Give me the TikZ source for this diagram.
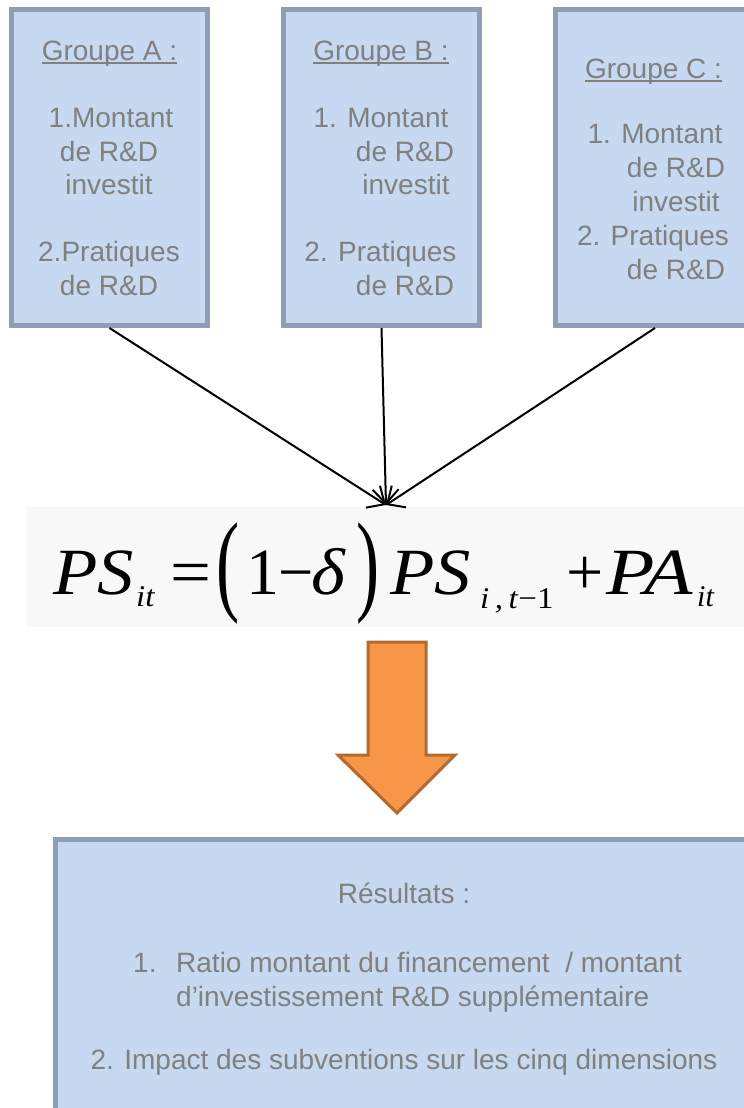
\documentclass[tikz,border=0pt]{standalone}
\usepackage{fontspec}
\setmainfont{Liberation Sans}
\newfontfamily\eqfont{Liberation Serif}
\usetikzlibrary{arrows.meta}
\definecolor{boxfill}{HTML}{C6D9F0}
\definecolor{boxline}{HTML}{8E9FB5}
\definecolor{txt}{HTML}{808080}
\definecolor{orfill}{HTML}{F79646}
\definecolor{orline}{HTML}{B46A2E}
\definecolor{eqbg}{HTML}{F8F8F8}
\newcommand\myul[1]{\setbox0\hbox{#1}\rlap{\rule[-3.5pt]{\wd0}{1.4pt}}\box0}
\begin{document}
\begin{tikzpicture}[x=1pt,y=-1pt,
  gbox/.style={draw=boxline, fill=boxfill, line width=5pt, inner sep=0pt},
  lbl/.style={text=txt, font=\fontsize{28}{34}\selectfont, inner sep=0pt, anchor=base},
  conn/.style={line width=2pt, -{Straight Barb[length=14pt,width=26pt]}},
  eq/.style={font=\eqfont\fontsize{66}{70}\selectfont, inner sep=0pt, anchor=base west},
  eqs/.style={font=\eqfont\fontsize{30}{30}\selectfont, inner sep=0pt, anchor=base west},
]
\useasboundingbox (0,0) rectangle (744,1108);
\clip (0,0) rectangle (744,1108);
\fill[white] (0,0) rectangle (744,1108);

% group boxes
\node[gbox, minimum width=196pt, minimum height=316pt] (A) at (109.5,167.5) {};
\node[gbox, minimum width=196pt, minimum height=316pt] (B) at (381.5,167.5) {};
\node[gbox, minimum width=199pt, minimum height=316pt] (C) at (655,167.5) {};

% texts A
\node[lbl] (a0) at (109.5,60) {\myul{Groupe A :}};
\node[lbl] (a1) at (111,127) {1.Montant};
\node[lbl] (a2) at (109,161) {de R\&D};
\node[lbl] (a3) at (109,194) {investit};
\node[lbl] (a4) at (109,261) {2.Pratiques};
\node[lbl] (a5) at (109,295) {de R\&D};

% texts B
\node[lbl] (b0) at (381,60) {\myul{Groupe B :}};
\node[lbl] (b1) at (381,127) {1. Montant};
\node[lbl] (b2) at (405,161) {de R\&D};
\node[lbl] (b3) at (406,194) {investit};
\node[lbl] (b4) at (380.5,261) {2. Pratiques};
\node[lbl] (b5) at (405,295) {de R\&D};

% texts C
\node[lbl] (c0) at (653.5,78) {\myul{Groupe C :}};
\node[lbl] (c1) at (655,143) {1. Montant};
\node[lbl] (c2) at (676,177) {de R\&D};
\node[lbl] (c3) at (676,211) {investit};
\node[lbl] (c4) at (653,245) {2. Pratiques};
\node[lbl] (c5) at (676,279) {de R\&D};

% equation
\fill[eqbg] (27,507) rectangle (744,627);
\coordinate (tip) at (386,505);
\node[eq] (e1) at (53,594) {\scalebox{1.1}[1]{\textit{PS}}};
\node[eqs] (e2) at (136,606) {\scalebox{1.1}[1]{\textit{it}}};
\node[eq] (e3) at (170,594) {\scalebox{1.1}[1]{=}};
\node[eq] (e4) at (216,600) {\scalebox{1.05}[1.7]{(}};
\node[eq] (e5) at (246,594) {1};
\node[eq] (e6) at (278,594) {\scalebox{0.95}[1]{−}};
\node[eq] (e7) at (311,594) {\scalebox{1.1}[1]{\textit{δ}}};
\node[eq] (e8) at (356,600) {\scalebox{1.05}[1.7]{)}};
\node[eq] (e9) at (390,594) {\scalebox{1.1}[1]{\textit{PS}}};
\node[eqs] (e10) at (480,608) {\scalebox{1.1}[1]{\textit{i\,,\,t}−1}};
\node[eq] (e11) at (566,594) {+};
\node[eq] (e12) at (606,594) {\scalebox{1.2}[1]{\textit{PA}}};
\node[eqs] (e13) at (697,606) {\textit{it}};

% connectors
\draw[conn] (A.south) -- (tip);
\draw[conn] (B.south) -- (tip);
\draw[conn] (C.south) -- (tip);

% orange arrow
\draw[fill=orfill, draw=orline, line width=3pt, line join=miter]
  (368,642) -- (426,642) -- (426,755) -- (455,755) -- (397,813) -- (338,755) -- (368,755) -- cycle;

% results box
\node[gbox, minimum width=701.5pt, minimum height=300pt] (R) at (406.25,989.5) {};
\node[lbl] (rt) at (404,903) {Résultats :};
\node[lbl, anchor=base west] (r1n) at (133,972) {1.};
\node[lbl, anchor=base west] (r1) at (176,972) {Ratio montant du financement~ / montant};
\node[lbl, anchor=base west] (r1b) at (176,1006) {d’investissement R\&D supplémentaire};
\node[lbl] (r2) at (404,1069) {2. Impact des subventions sur les cinq dimensions};
\end{tikzpicture}
\end{document}
